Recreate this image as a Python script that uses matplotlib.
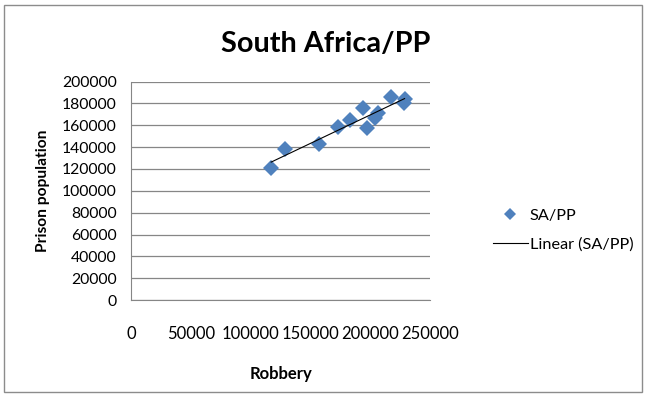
import numpy as np
import matplotlib
matplotlib.use("Agg")
import matplotlib.pyplot as plt
from matplotlib.patches import Rectangle
from matplotlib.lines import Line2D

plt.rcParams["font.family"] = ["Lato", "DejaVu Sans"]

# ===== Dados =====
robbery = [117000, 128200, 156900, 172800, 182500, 193700, 197000,
           203400, 206200, 217300, 228500, 227700]
prison_pop = [121200, 138300, 142600, 158200, 164900, 175600, 157300,
              166400, 171600, 186300, 184100, 180500]
x_ticks = [0, 50000, 100000, 150000, 200000, 250000]
y_ticks = list(range(0, 200001, 20000))

SERIE_COR = "#4F81BD"
GRADE_COR = "#868686"

fig = plt.figure(figsize=(6.48, 3.98), dpi=100)
fig.patches.append(Rectangle((0.006, 0.015), 0.985, 0.972, transform=fig.transFigure,
                             fill=False, edgecolor="#8c8c8c", linewidth=1.0))

ax = fig.add_axes([0.2025, 0.246, 0.4615, 0.549])
ax.set_xlim(0, 250000)
ax.set_ylim(0, 200000)
ax.set_xticks(x_ticks)
ax.set_yticks(y_ticks)
ax.set_xticklabels([str(v) for v in x_ticks], fontsize=12)
ax.set_yticklabels([str(v) for v in y_ticks], fontsize=11.3)
ax.tick_params(axis="both", length=0, colors="black")
ax.tick_params(axis="x", pad=19)
ax.tick_params(axis="y", pad=10.5)
ax.grid(axis="y", color=GRADE_COR, linewidth=0.9)
ax.set_axisbelow(True)
for lado in ("top", "right"):
    ax.spines[lado].set_visible(False)
ax.spines["left"].set_color(GRADE_COR)
ax.spines["bottom"].set_color(GRADE_COR)

ax.plot(robbery, prison_pop, linestyle="none", marker="D", markersize=8.5,
        color=SERIE_COR, markeredgewidth=0, zorder=3)

# Linha de tendência linear (como no Excel)
coef = np.polyfit(robbery, prison_pop, 1)
xs = np.array([min(robbery), max(robbery)])
ax.plot(xs, np.polyval(coef, xs), color="black", linewidth=0.8, zorder=4)

ax.set_xlabel("Robbery", fontsize=12, fontweight="bold", labelpad=17)
ax.set_ylabel("Prison population", fontsize=11.2, fontweight="bold", labelpad=8.5)
fig.text(0.503, 1 - 51.7 / 398, "South Africa/PP", fontsize=20.8, fontweight="bold",
         ha="center", va="baseline")

handles = [
    Line2D([], [], linestyle="none", marker="D", markersize=6, color=SERIE_COR,
           markeredgewidth=0, label="SA/PP"),
    Line2D([], [], color="black", linewidth=0.8, label="Linear (SA/PP)"),
]
fig.legend(handles=handles, loc="center left", bbox_to_anchor=(0.738, 0.421),
           frameon=False, fontsize=11.7, handlelength=2.15, handletextpad=0.12,
           labelspacing=0.9)

fig.savefig("out.png", dpi=100)
